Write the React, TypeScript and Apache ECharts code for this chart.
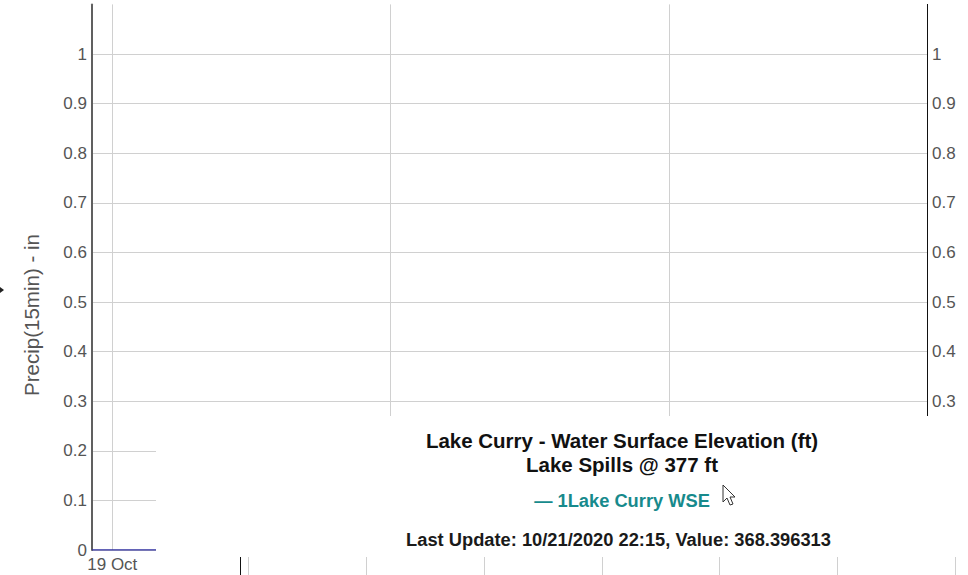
import React, { useEffect, useRef } from 'react';
import * as echarts from 'echarts';

// ---- data ----
const precipTimes = [
  '2020-10-18 22:15',
  '2020-10-19 06:00',
  '2020-10-19 12:00',
  '2020-10-19 18:00',
  '2020-10-20 00:00',
  '2020-10-20 06:00',
  '2020-10-20 12:00',
  '2020-10-20 18:00',
  '2020-10-21 00:00',
  '2020-10-21 06:00',
  '2020-10-21 12:00',
  '2020-10-21 18:00',
  '2020-10-21 22:15',
];
const precipValues = [0, 0, 0, 0, 0, 0, 0, 0, 0, 0, 0, 0, 0];
const xStart = '2020-10-18 22:15';
const xEnd = '2020-10-21 22:15';
const yMin = 0;
const yMax = 1.1;
const yInterval = 0.1;
const monthNames = ['Jan', 'Feb', 'Mar', 'Apr', 'May', 'Jun', 'Jul', 'Aug', 'Sep', 'Oct', 'Nov', 'Dec'];

const yAxisTitle = 'Precip(15min) - in';
const popupTitle = 'Lake Curry - Water Surface Elevation (ft)';
const popupSubtitle = 'Lake Spills @ 377 ft';
const popupLegend = '\u2014 1Lake Curry WSE';
const popupFooter = 'Last Update: 10/21/2020 22:15, Value: 368.396313';

const FONT = "'Liberation Sans', Arial, sans-serif";

function parseLocal(s: string): number {
  const [d, t] = s.split(' ');
  const [Y, M, D] = d.split('-').map(Number);
  const [h, m] = t.split(':').map(Number);
  return new Date(Y, M - 1, D, h, m).getTime();
}

export default function App() {
  const ref = useRef<HTMLDivElement>(null);

  useEffect(() => {
    if (!ref.current) return;
    const chart = echarts.init(ref.current, undefined, { renderer: 'svg' });

    const seriesData = precipTimes.map((t, i) => [parseLocal(t), precipValues[i]]);

    // popup decoration lines (a chart under the popup)
    const popupLineXs = [248, 366, 484, 602, 719, 837, 955];
    const popupLines: any[] = popupLineXs.map((x) => ({
      type: 'line',
      z: 101,
      shape: { x1: x + 0.5, y1: 557, x2: x + 0.5, y2: 575 },
      style: { stroke: '#d0d0d0', lineWidth: 1 },
    }));
    popupLines.push({
      type: 'line',
      z: 102,
      shape: { x1: 240.5, y1: 557, x2: 240.5, y2: 575 },
      style: { stroke: '#111', lineWidth: 1 },
    });

    const cursorPts = [
      [0, 0], [0, 17], [4, 13], [7, 20], [10, 19], [7, 12], [12, 12],
    ].map(([a, b]) => [723 + a, 485 + b]);

    chart.setOption({
      animation: false,
      backgroundColor: '#fff',
      grid: { left: 92, right: 41, top: 4.4, bottom: 25 },
      xAxis: {
        type: 'time',
        min: parseLocal(xStart),
        max: parseLocal(xEnd),
        minInterval: 24 * 3600 * 1000,
        maxInterval: 24 * 3600 * 1000,
        axisLine: { show: false },
        axisTick: { show: false },
        splitLine: { show: true, lineStyle: { color: '#d0d0d0', width: 1 } },
        axisLabel: {
          showMinLabel: false,
          showMaxLabel: false,
          color: '#555',
          fontFamily: FONT,
          fontSize: 17,
          margin: 6,
          formatter: (v: number) => {
            const d = new Date(v);
            return `${d.getDate()} ${monthNames[d.getMonth()]}`;
          },
        },
      },
      yAxis: [
        {
          type: 'value',
          min: yMin,
          max: yMax,
          interval: yInterval,
          position: 'left',
          axisLine: { show: true, lineStyle: { color: '#606060', width: 2 } },
          axisTick: { show: false },
          splitLine: { show: true, showMaxLine: false, lineStyle: { color: '#d0d0d0', width: 1 } },
          axisLabel: {
            showMaxLabel: false,
            color: '#555',
            fontFamily: FONT,
            fontSize: 17,
            margin: 5,
            formatter: (v: number) => String(Math.round(v * 10) / 10),
          },
        },
        {
          type: 'value',
          min: yMin,
          max: yMax,
          interval: yInterval,
          position: 'right',
          axisLine: { show: true, lineStyle: { color: '#111', width: 1 } },
          axisTick: { show: false },
          splitLine: { show: false },
          axisLabel: {
            showMaxLabel: false,
            color: '#555',
            fontFamily: FONT,
            fontSize: 17,
            margin: 5,
            formatter: (v: number) => String(Math.round(v * 10) / 10),
          },
        },
      ],
      series: [
        {
          type: 'line',
          yAxisIndex: 0,
          data: seriesData,
          showSymbol: false,
          lineStyle: { color: '#3030a0', width: 1.5 },
          itemStyle: { color: '#3030a0' },
        },
      ],
      graphic: [
        {
          type: 'text',
          x: 31,
          y: 315,
          rotation: Math.PI / 2,
          style: {
            text: yAxisTitle,
            fill: '#555',
            font: `20.5px ${FONT}`,
            align: 'center',
            verticalAlign: 'middle',
          },
        },
        {
          type: 'polygon',
          shape: { points: [[0, 287], [4, 290], [0, 293]] },
          style: { fill: '#222' },
        },
        {
          type: 'rect',
          z: 100,
          shape: { x: 156, y: 416, width: 812, height: 159 },
          style: { fill: '#fff' },
        },
        ...popupLines,
        {
          type: 'text',
          z: 103,
          x: 622,
          y: 440,
          style: {
            text: popupTitle,
            fill: '#111',
            font: `bold 20.5px ${FONT}`,
            align: 'center',
            verticalAlign: 'middle',
          },
        },
        {
          type: 'text',
          z: 103,
          x: 622,
          y: 464,
          style: {
            text: popupSubtitle,
            fill: '#111',
            font: `bold 20.5px ${FONT}`,
            align: 'center',
            verticalAlign: 'middle',
          },
        },
        {
          type: 'text',
          z: 103,
          x: 622,
          y: 500,
          style: {
            text: popupLegend,
            fill: '#178a8c',
            font: `bold 18.3px ${FONT}`,
            align: 'center',
            verticalAlign: 'middle',
          },
        },
        {
          type: 'text',
          z: 103,
          x: 618.5,
          y: 539,
          style: {
            text: popupFooter,
            fill: '#1a1a1a',
            font: `bold 18.3px ${FONT}`,
            align: 'center',
            verticalAlign: 'middle',
          },
        },
        {
          type: 'polygon',
          z: 104,
          shape: { points: cursorPts },
          style: { fill: '#fff', stroke: '#333', lineWidth: 1 },
        },
      ],
    });

    return () => chart.dispose();
  }, []);

  return (
    <div
      ref={ref}
      style={{ position: 'fixed', left: 0, top: 0, width: 968, height: 575 }}
    />
  );
}
